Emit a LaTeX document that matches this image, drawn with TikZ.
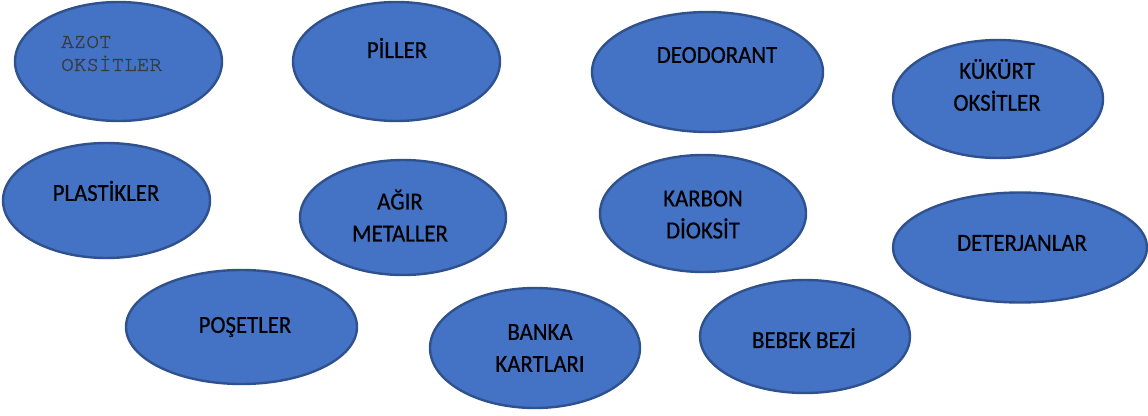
\documentclass[tikz,border=0pt]{standalone}
\usepackage{fontspec}
\setmainfont{Carlito}[FakeStretch=0.93, FakeBold=0.6]
\newfontfamily\monofont{texgyrecursor-regular.otf}[FakeBold=1.2]
\usetikzlibrary{shapes.geometric}
\definecolor{ellfill}{HTML}{4472C4}
\definecolor{elldraw}{HTML}{2F528F}
\definecolor{monogray}{HTML}{3A3A3A}
\begin{document}
\begin{tikzpicture}[x=1pt,y=-1pt,
  blob/.style={ellipse, fill=ellfill, draw=elldraw, line width=2.4pt, inner sep=0pt},
  lbl/.style={align=center, font=\fontsize{24.5}{32}\selectfont, text=black, inner sep=0pt},
  monolbl/.style={align=left, font=\monofont\fontsize{21}{23}\selectfont, text=monogray, inner sep=0pt, anchor=west}]
\useasboundingbox (0,0) rectangle (1148,415);
% ellipses
\node[blob, minimum width=207pt, minimum height=119pt] (e1) at (118.5,61.5) {};
\node[blob, minimum width=207pt, minimum height=119pt] (e2) at (396.5,61.5) {};
\node[blob, minimum width=231pt, minimum height=120pt] (e3) at (707.5,72) {};
\node[blob, minimum width=210pt, minimum height=118pt] (e4) at (998,99) {};
\node[blob, minimum width=207pt, minimum height=115pt] (e5) at (106.5,200.5) {};
\node[blob, minimum width=206pt, minimum height=115pt] (e6) at (403,217.5) {};
\node[blob, minimum width=206pt, minimum height=117pt] (e7) at (703,213.5) {};
\node[blob, minimum width=254pt, minimum height=110pt] (e8) at (1020,247.5) {};
\node[blob, minimum width=231pt, minimum height=114pt] (e9) at (241.5,327) {};
\node[blob, minimum width=210pt, minimum height=120pt] (e10) at (535,348) {};
\node[blob, minimum width=210pt, minimum height=113pt] (e11) at (805,336.5) {};
% texts
\node[monolbl] (t1) at (61,53.5) {AZOT\\OKSİTLER};
\node[lbl] (t2) at (397,48) {PİLLER};
\node[lbl] (t3) at (717,55) {DEODORANT};
\node[lbl] (t4) at (997,85) {KÜKÜRT\\OKSİTLER};
\node[lbl] (t5) at (106,191) {PLASTİKLER};
\node[lbl] (t6) at (400,215.5) {AĞIR\\METALLER};
\node[lbl] (t7) at (703,214.5) {KARBON\\DİOKSİT};
\node[lbl] (t8) at (1022,243) {DETERJANLAR};
\node[lbl] (t9) at (245,327) {POŞETLER};
\node[lbl] (t10) at (540,348) {BANKA\\KARTLARI};
\node[lbl] (t11) at (804,338) {BEBEK BEZİ};
\end{tikzpicture}
\end{document}
